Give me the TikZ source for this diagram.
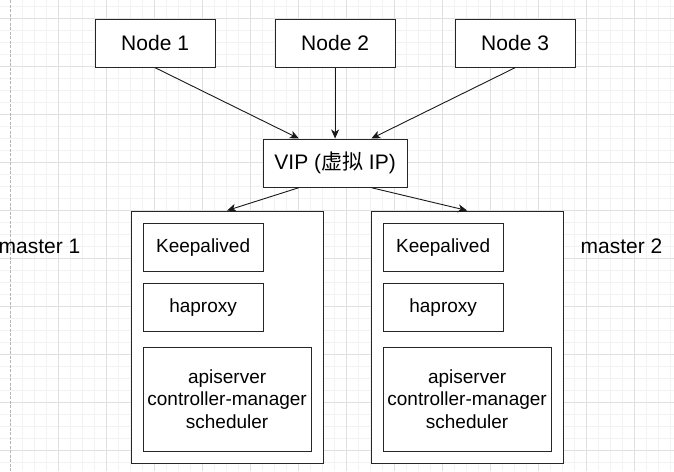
\documentclass[tikz,border=0pt]{standalone}
\usepackage{fontspec}
\setmainfont{Liberation Sans}
\newfontfamily\cjk{Noto Sans CJK SC}
\usetikzlibrary{arrows.meta,calc}
\definecolor{gridminor}{HTML}{F2F2F2}
\definecolor{gridmajor}{HTML}{E0E0E0}
\definecolor{pageline}{HTML}{B5B5B5}
\tikzset{
  box/.style={draw=black!85, line width=1.2pt, fill=white, inner sep=0pt, anchor=north west, align=center},
  bigtxt/.style={font=\fontsize{21}{24}\selectfont},
  smalltxt/.style={font=\fontsize{19}{22.5}\selectfont},
  arr/.style={draw=black!90, line width=0.9pt, -{Stealth[length=9pt,width=8pt,inset=2.5pt]}},
  lbl/.style={inner sep=0pt, font=\fontsize{21}{24}\selectfont},
  minorline/.style={draw=gridminor, line width=0.8pt},
  majorline/.style={draw=gridmajor, line width=0.8pt},
}
\begin{document}
\begin{tikzpicture}[x=1pt,y=-1pt]
\useasboundingbox (0,0) rectangle (674,471);
\fill[white] (0,0) rectangle (674,471);
% grid
\foreach \x in {22,34,...,670} \draw[minorline] (\x+0.5,0) -- (\x+0.5,471);
\foreach \y in {6,18,...,470} \draw[minorline] (0,\y+0.5) -- (674,\y+0.5);
\foreach \x in {58,106,...,670} \draw[majorline] (\x+0.5,0) -- (\x+0.5,471);
\foreach \y in {18,66,...,470} \draw[majorline] (0,\y+0.5) -- (674,\y+0.5);
\draw[pageline, line width=0.8pt, dash pattern=on 3pt off 1.5pt] (10.5,0) -- (10.5,471);
% top nodes
\node[box, bigtxt, minimum width=120pt, minimum height=48pt] (n1) at (94.5,18.5) {Node 1};
\node[box, bigtxt, minimum width=120pt, minimum height=48pt] (n2) at (274.5,18.5) {Node 2};
\node[box, bigtxt, minimum width=120pt, minimum height=48pt] (n3) at (454.5,18.5) {Node 3};
\node[box, bigtxt, minimum width=144pt, minimum height=48pt] (vip) at (262.5,138.5) {VIP ({\cjk 虚拟} IP)};
% masters
\node[box, minimum width=192pt, minimum height=252pt] (m1) at (130.5,210.5) {};
\node[box, minimum width=192pt, minimum height=252pt] (m2) at (370.5,210.5) {};
\node[box, smalltxt, minimum width=120pt, minimum height=48pt] (k1) at (142.5,222.5) {Keepalived};
\node[box, smalltxt, minimum width=120pt, minimum height=48pt] (h1) at (142.5,282.5) {haproxy};
\node[box, smalltxt, minimum width=168pt, minimum height=104pt] (a1) at (142.5,346.5) {apiserver\\controller-manager\\scheduler};
\node[box, smalltxt, minimum width=120pt, minimum height=48pt] (k2) at (382.5,222.5) {Keepalived};
\node[box, smalltxt, minimum width=120pt, minimum height=48pt] (h2) at (382.5,282.5) {haproxy};
\node[box, smalltxt, minimum width=168pt, minimum height=104pt] (a2) at (382.5,346.5) {apiserver\\controller-manager\\scheduler};
% labels
\node[lbl, anchor=east] (l1) at (80.5,246.5) {master 1};
\node[lbl, anchor=west] (l2) at (580.5,246.5) {master 2};
% connectors
\draw[arr] (n1.south) -- ($(vip.north west)!0.25!(vip.north east)$);
\draw[arr] (n2.south) -- (vip.north);
\draw[arr] (n3.south) -- ($(vip.north west)!0.75!(vip.north east)$);
\draw[arr] ($(vip.south west)!0.25!(vip.south east)$) -- (m1.north);
\draw[arr] ($(vip.south west)!0.75!(vip.south east)$) -- (m2.north);
\end{tikzpicture}
\end{document}
